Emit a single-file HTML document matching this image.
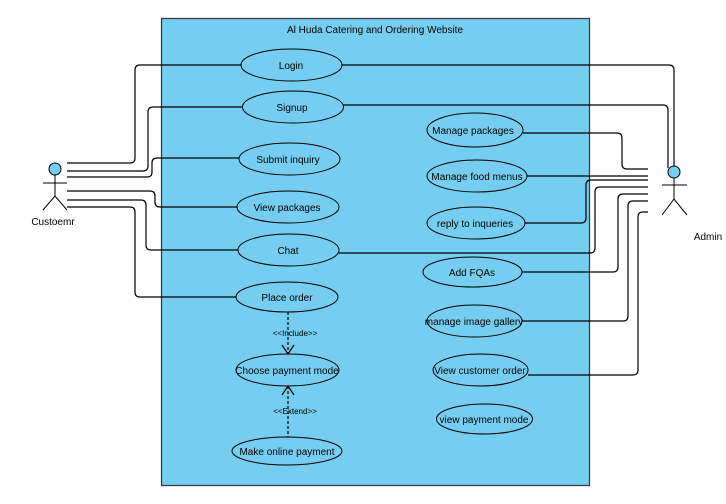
<!DOCTYPE html>
<html><head><meta charset="utf-8"><style>
html,body{margin:0;padding:0;background:#fff;}
svg{display:block;font-family:"Liberation Sans",sans-serif;}
text{font-size:10px;fill:#000;}
</style></head><body>
<svg width="726" height="504" viewBox="0 0 726 504">
<rect x="161.5" y="18.5" width="428" height="467" fill="#75CEF0" stroke="#333" stroke-width="1.2"/>
<text x="375" y="33" text-anchor="middle">Al Huda Catering and Ordering Website</text>
<g fill="none" stroke="#000" stroke-width="1.2">
<!-- customer connectors -->
<path d="M67 163 H130 Q135 163 135 158 V70 Q135 65 140 65 H241"/>
<path d="M67 171 H143 Q148 171 148 166 V112 Q148 107 153 107 H243"/>
<path d="M67 177 H147 Q152 177 152 172 V163 Q152 158 157 158 H239"/>
<path d="M67 191 H150 Q155 191 155 196 V202 Q155 207 160 207 H237"/>
<path d="M67 200 H141 Q146 200 146 205 V245 Q146 250 151 250 H238"/>
<path d="M67 207 H130 Q135 207 135 212 V292 Q135 297 140 297 H236"/>
<!-- admin connectors -->
<path d="M342 65 H669 Q674 65 674 70 V166"/>
<path d="M343 105 H663 Q668 105 668 110 V168"/>
<path d="M523 133 H617 Q622 133 622 138 V164 Q622 169 627 169 H648"/>
<path d="M527 176 H648"/>
<path d="M525 223 H581 Q586 223 586 218 V185 Q586 180 591 180 H648"/>
<path d="M339 253 H590 Q595 253 595 248 V192 Q595 187 600 187 H648"/>
<path d="M522 272 H613 Q618 272 618 267 V199 Q618 194 623 194 H648"/>
<path d="M522 321 H623 Q628 321 628 316 V206 Q628 201 633 201 H648"/>
<path d="M528 375 H633 Q638 375 638 370 V217 Q638 212 643 212 H648"/>
<!-- dependencies -->
<path d="M288 312 V354" stroke-dasharray="3,2"/>
<path d="M282 345 L288 354 L294 345"/>
<path d="M288 386 V437" stroke-dasharray="3,2"/>
<path d="M282 395 L288 386 L294 395"/>
</g>
<g fill="#75CEF0" stroke="#000" stroke-width="1">
<ellipse cx="291.5" cy="65" rx="50.5" ry="16"/>
<ellipse cx="293" cy="107" rx="50.5" ry="16"/>
<ellipse cx="289.5" cy="159" rx="50.5" ry="16"/>
<ellipse cx="288" cy="207" rx="51" ry="16"/>
<ellipse cx="288.5" cy="250" rx="50.5" ry="16"/>
<ellipse cx="287" cy="297" rx="51" ry="15"/>
<ellipse cx="287.5" cy="370" rx="51.5" ry="16"/>
<ellipse cx="287" cy="451" rx="55" ry="14"/>
<ellipse cx="475" cy="130" rx="48" ry="17"/>
<ellipse cx="477" cy="176" rx="50" ry="16"/>
<ellipse cx="476" cy="223" rx="49" ry="16"/>
<ellipse cx="472.5" cy="272" rx="49.5" ry="15"/>
<ellipse cx="474.5" cy="321" rx="47.5" ry="16"/>
<ellipse cx="480.5" cy="370" rx="47.5" ry="16"/>
<ellipse cx="484.5" cy="419" rx="48" ry="15"/>
</g>
<g text-anchor="middle">
<text x="291" y="69">Login</text>
<text x="292" y="111">Signup</text>
<text x="288" y="163">Submit inquiry</text>
<text x="287" y="211">View packages</text>
<text x="288" y="254">Chat</text>
<text x="287" y="301">Place order</text>
<text x="287" y="374">Choose payment mode</text>
<text x="287" y="455">Make online payment</text>
<text x="473" y="134">Manage packages</text>
<text x="477" y="180">Manage food menus</text>
<text x="475" y="227">reply to inqueries</text>
<text x="472" y="276">Add FQAs</text>
<text x="474" y="325">manage image gallery</text>
<text x="480" y="374">View customer order</text>
<text x="484" y="423">view payment mode</text>
<text x="295" y="336" style="font-size:8px">&lt;&lt;Include&gt;&gt;</text>
<text x="295" y="414" style="font-size:8px">&lt;&lt;Extend&gt;&gt;</text>
</g>
<!-- actors -->
<g stroke="#000" stroke-width="1">
<circle cx="55" cy="169" r="6" fill="#75CEF0"/>
<path d="M55 175 V196 M43 183 H67 M43 210 L55 196 L67 210" fill="none"/>
<circle cx="674" cy="172" r="6" fill="#75CEF0"/>
<path d="M674 178 V199 M662 185 H687 M662 215 L674 199 L687 215" fill="none"/>
</g>
<text x="53" y="225" text-anchor="middle">Custoemr</text>
<text x="708" y="240" text-anchor="middle">Admin</text>
</svg>
</body></html>
